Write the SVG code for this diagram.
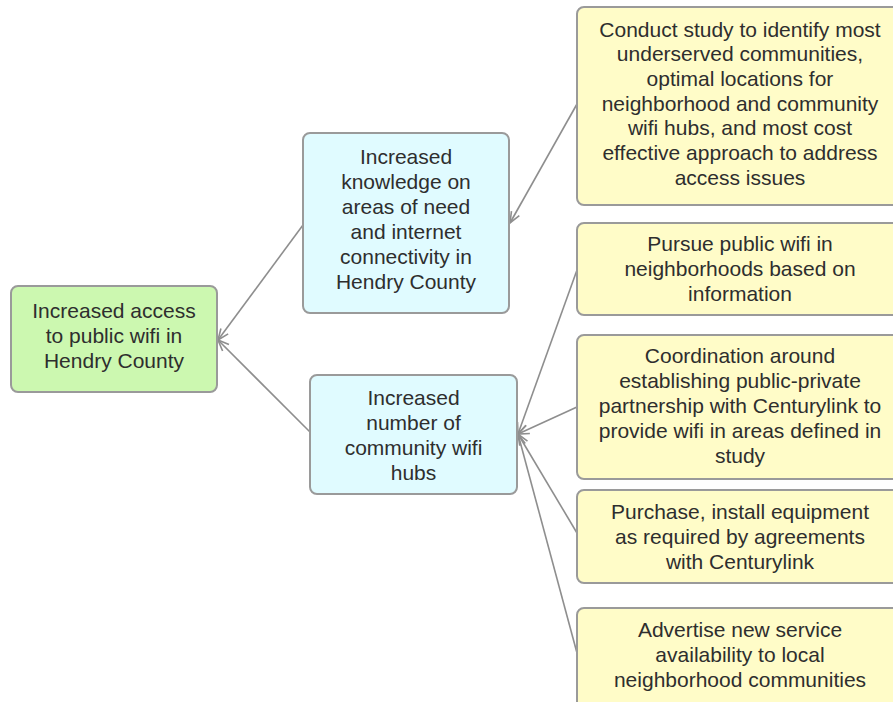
<svg xmlns="http://www.w3.org/2000/svg" width="893" height="702" viewBox="0 0 893 702">
<defs>
<style>
.box{stroke:#9a9a9a;stroke-width:2}
.g{fill:#ccf8b0}
.c{fill:#e0fbff}
.y{fill:#fffcc8}
text{font-family:"Liberation Sans",Arial,sans-serif;font-size:21px;fill:#2e2e2e;text-anchor:middle}
.conn line{stroke:#8e8e8e;stroke-width:1.6;fill:none;marker-end:url(#arr)}
</style>
<marker id="arr" markerUnits="userSpaceOnUse" markerWidth="14" markerHeight="12" viewBox="-12 -6 14 12" refX="0" refY="0" orient="auto">
<path d="M-11,-4.5 L0,0 L-11,4.5" fill="none" stroke="#8e8e8e" stroke-width="1.6"/>
</marker>
</defs>
<rect width="893" height="702" fill="#ffffff"/>
<g id="connectors" class="conn">
<line x1="577" y1="104" x2="510" y2="223"/>
<line x1="303" y1="225" x2="218" y2="340"/>
<line x1="310" y1="432" x2="218" y2="340"/>
<line x1="577" y1="270" x2="518" y2="434"/>
<line x1="577" y1="407" x2="518" y2="434"/>
<line x1="577" y1="533" x2="518" y2="434"/>
<line x1="577" y1="653" x2="518" y2="434"/>
</g>
<g id="root">
<rect class="box g" x="11" y="286" width="206" height="106" rx="7"/>
<text x="114" y="317.5">Increased access</text>
<text x="114" y="342.5">to public wifi in</text>
<text x="114" y="367.5">Hendry County</text>
</g>
<g id="knowledge">
<rect class="box c" x="303" y="133" width="206" height="180" rx="7"/>
<text x="406" y="163.5">Increased</text>
<text x="406" y="188.5">knowledge on</text>
<text x="406" y="213.5">areas of need</text>
<text x="406" y="238.5">and internet</text>
<text x="406" y="263.5">connectivity in</text>
<text x="406" y="288.5">Hendry County</text>
</g>
<g id="hubs">
<rect class="box c" x="310" y="375" width="207" height="119" rx="7"/>
<text x="413.5" y="405">Increased</text>
<text x="413.5" y="430">number of</text>
<text x="413.5" y="455">community wifi</text>
<text x="413.5" y="480">hubs</text>
</g>
<g id="study">
<rect class="box y" x="577" y="7" width="326" height="198" rx="7"/>
<text x="740" y="36.5">Conduct study to identify most</text>
<text x="740" y="61.2">underserved communities,</text>
<text x="740" y="85.9">optimal locations for</text>
<text x="740" y="110.6">neighborhood and community</text>
<text x="740" y="135.3">wifi hubs, and most cost</text>
<text x="740" y="160">effective approach to address</text>
<text x="740" y="184.7">access issues</text>
</g>
<g id="pursue">
<rect class="box y" x="577" y="223" width="326" height="92" rx="7"/>
<text x="740" y="251">Pursue public wifi in</text>
<text x="740" y="276">neighborhoods based on</text>
<text x="740" y="301">information</text>
</g>
<g id="coordination">
<rect class="box y" x="577" y="335" width="326" height="144" rx="7"/>
<text x="740" y="362.5">Coordination around</text>
<text x="740" y="387.5">establishing public-private</text>
<text x="740" y="412.5">partnership with Centurylink to</text>
<text x="740" y="437.5">provide wifi in areas defined in</text>
<text x="740" y="462.5">study</text>
</g>
<g id="purchase">
<rect class="box y" x="577" y="490" width="326" height="93" rx="7"/>
<text x="740" y="518.5">Purchase, install equipment</text>
<text x="740" y="543.5">as required by agreements</text>
<text x="740" y="568.5">with Centurylink</text>
</g>
<g id="advertise">
<rect class="box y" x="577" y="608" width="326" height="102" rx="7"/>
<text x="740" y="636.7">Advertise new service</text>
<text x="740" y="661.7">availability to local</text>
<text x="740" y="686.7">neighborhood communities</text>
</g>
</svg>
